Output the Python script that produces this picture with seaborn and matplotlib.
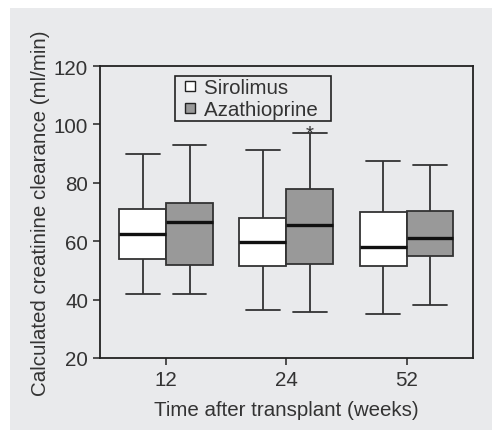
import pandas as pd
import matplotlib.pyplot as plt
import matplotlib as mt
from matplotlib.lines import Line2D
import seaborn as sns

# semanas e os cinco numeros (min, q1, mediana, q3, max) de cada caixa
semanas = ['12', '24', '52']
grupos = ['Sirolimus', 'Azathioprine']

sirolimus = [
    [42.0, 54.0, 62.5, 71.0, 90.0],
    [36.5, 51.5, 59.8, 68.0, 91.3],
    [35.0, 51.5, 58.0, 70.0, 87.5],
]
azathioprine = [
    [42.0, 52.0, 66.5, 73.2, 92.8],
    [35.8, 52.3, 65.5, 77.8, 97.0],
    [38.0, 55.0, 61.2, 70.3, 86.0],
]
signif = ['', '*', '']   # asterisco acima da azathioprine

fundo = '#e9eaec'
cinza = '#999999'
tinta = '#333333'
cores = ['white', cinza]
fs = 14.8

linhas = []
for nome, series in zip(grupos, [sirolimus, azathioprine]):
    for sem, vals in zip(semanas, series):
        for v in vals:
            linhas.append({'semana': sem, 'grupo': nome, 'valor': v})
df = pd.DataFrame(linhas)

sns.set_style('ticks')
plt.rcParams['font.family'] = ['Liberation Sans', 'DejaVu Sans']

fig = plt.figure(figsize=(4.92, 4.31), dpi=100, facecolor='white')
# painel cinza de fundo
fig.patches.append(mt.patches.Rectangle((10 / 492, 0), 1, (431 - 9) / 431,
                                        transform=fig.transFigure,
                                        facecolor=fundo, edgecolor='none', zorder=-5))
ax = fig.add_axes([100 / 492, 1 - 359 / 431, 372.7 / 492, 292 / 431])
ax.set_facecolor(fundo)

largura = 0.78
sns.boxplot(data=df, x='semana', y='valor', hue='grupo', order=semanas,
            hue_order=grupos, palette=cores, whis=(0, 100),
            width=largura, gap=0, linecolor=tinta, linewidth=1.3,
            medianprops=dict(color='#111111', linewidth=2.4),
            capwidths=0.28, showfliers=False, legend=False, ax=ax)

for i, s in enumerate(signif):
    if s:
        ax.text(i + largura / 4, azathioprine[i][4] - 1.8, s, ha='center',
                va='baseline', fontsize=fs, color=tinta)

ax.set_xlim(-0.55, 2.55)
ax.set_ylim(20, 120)
ax.set_yticks([20, 40, 60, 80, 100, 120])
ax.set_xlabel('Time after transplant (weeks)', fontsize=fs, color=tinta, labelpad=8)
ax.set_ylabel('Calculated creatinine clearance (ml/min)', fontsize=fs,
              color=tinta, labelpad=3)
ax.tick_params(labelsize=fs, labelcolor=tinta, direction='out', length=5,
               width=1.2, color=tinta)
for sp in ax.spines.values():
    sp.set_visible(True)
    sp.set_color('#222222')
    sp.set_linewidth(1.3)

handles = [Line2D([], [], ls='', marker='s', markersize=7.5, markerfacecolor=c,
                  markeredgecolor='#222222', markeredgewidth=1.0) for c in cores]
labels = [g + '  ' for g in grupos]
leg = ax.legend(handles, labels, loc='upper left', bbox_to_anchor=(0.201, 0.966),
                borderaxespad=0, fontsize=fs, frameon=True, fancybox=False,
                handlelength=1.27, handletextpad=0.05,
                labelspacing=0.15, borderpad=0.1)
leg.get_frame().set_edgecolor('#222222')
leg.get_frame().set_facecolor(fundo)
leg.get_frame().set_linewidth(1.2)
leg.get_frame().set_alpha(1)
for t in leg.get_texts():
    t.set_color(tinta)

plt.savefig('out.png', dpi=100, facecolor='white')
